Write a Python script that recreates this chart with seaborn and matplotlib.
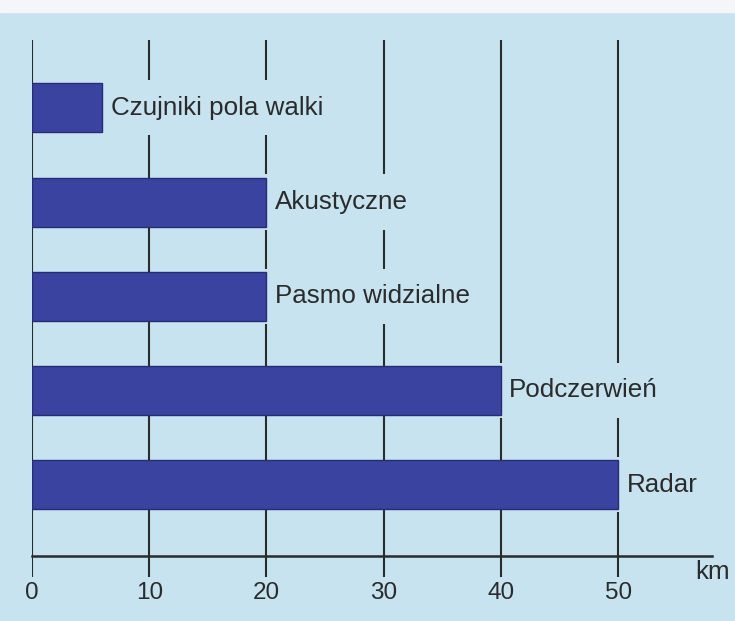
import numpy as np
import pandas as pd
import matplotlib
matplotlib.use("Agg")
import matplotlib.pyplot as plt
import seaborn as sns
from matplotlib.patches import Rectangle

# data
sensors = ["Czujniki pola walki", "Akustyczne", "Pasmo widzialne", "Podczerwień", "Radar"]
range_km = [6, 20, 20, 40, 50]
x_ticks = [0, 10, 20, 30, 40, 50]

BG = "#c6e3ef"
BAR = "#3b43a0"
INK = "#2b2b2b"

sns.set_style("white")
plt.rcParams["font.family"] = ["Liberation Sans", "DejaVu Sans"]

df = pd.DataFrame({"sensor": sensors, "km": range_km})

fig = plt.figure(figsize=(7.35, 6.21), dpi=100, facecolor=BG)
fig.patches.append(Rectangle((0, 1 - 12 / 621), 1, 12 / 621, transform=fig.transFigure,
                             color="#f4f6f7", zorder=0))
# axes runs a bit below the axis line so the grid lines poke through it like ticks
ax = fig.add_axes([32 / 735, 44 / 621, (712 - 32) / 735, (577 - 40) / 621])
ax.set_facecolor(BG)

sns.barplot(data=df, x="km", y="sensor", orient="h", color=BAR, width=0.52,
            edgecolor="#262c78", linewidth=1.0, saturation=1, ax=ax, zorder=4)

for i, (name, val) in enumerate(zip(sensors, range_km)):
    ax.annotate(name, (val, i), xytext=(6, 0), textcoords="offset points",
                ha="left", va="center", fontsize=18.7, color=INK, zorder=3,
                bbox=dict(boxstyle="square,pad=0.6", facecolor=BG, edgecolor="none"))

ax.set_xlim(0, 58)
ax.set_ylim(4 + 0.98, -0.72)
ax.set_xticks(x_ticks)
ax.set_yticks([])
ax.set_xlabel("")
ax.set_ylabel("")

ax.grid(axis="x", color=INK, linewidth=1.5, zorder=0)
ax.set_axisbelow(True)
for s in ["top", "right", "left"]:
    ax.spines[s].set_visible(False)
ax.spines["bottom"].set_position(("axes", 21 / 537))
ax.spines["bottom"].set_color(INK)
ax.spines["bottom"].set_linewidth(1.8)
ax.tick_params(axis="x", length=0, labelsize=17.5, labelcolor=INK, pad=19)

fig.text(713 / 735, 1 - 572 / 621, "km", ha="center", va="center", fontsize=18.7, color=INK)

fig.savefig("out.png", dpi=100, facecolor=BG)
